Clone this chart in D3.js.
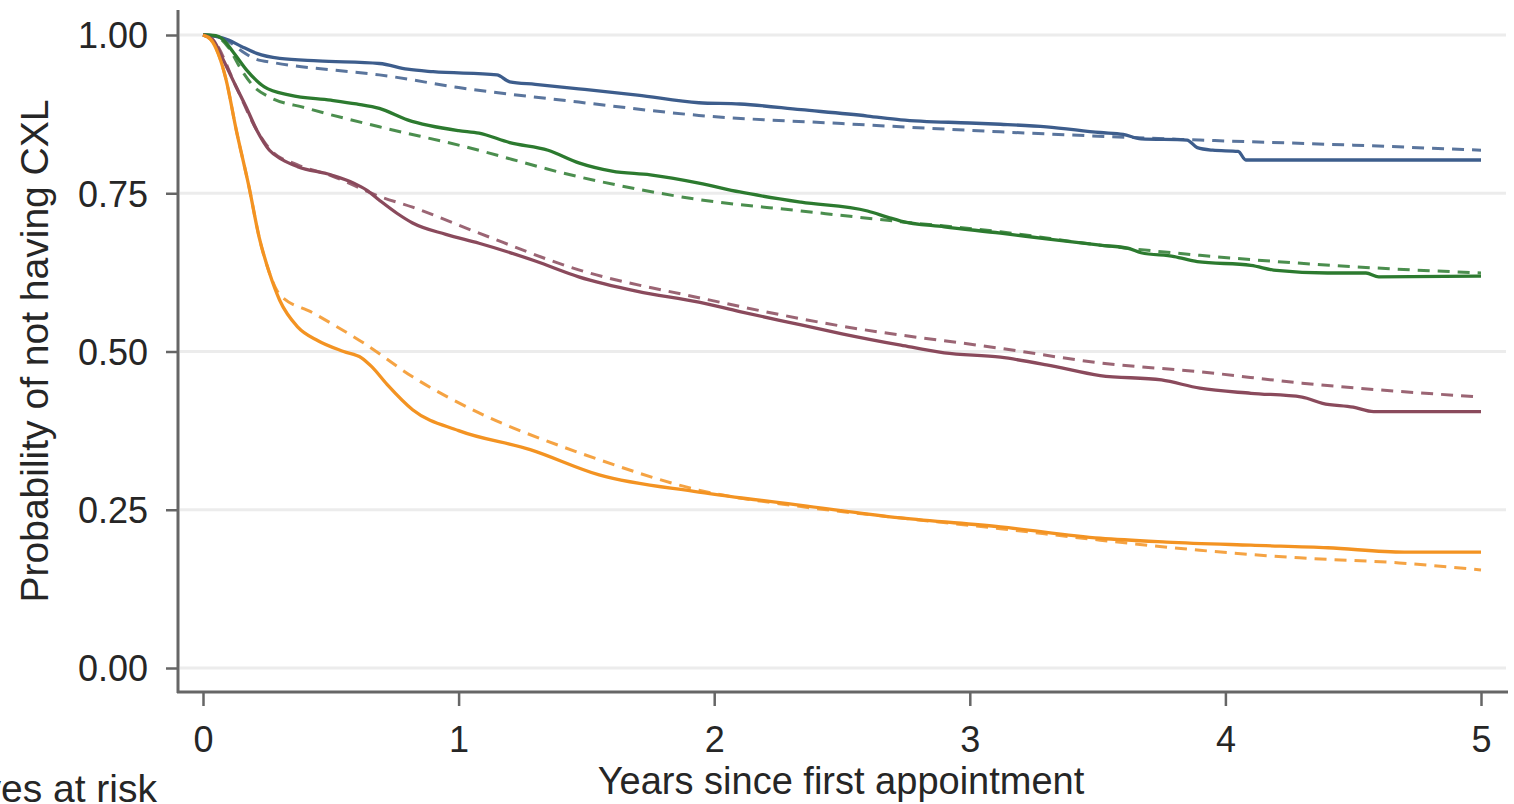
<!DOCTYPE html>
<html>
<head>
<meta charset="utf-8">
<script src="https://cdn.jsdelivr.net/npm/d3@7"></script>
<style>
  body { margin: 0; background: #fff; }
  svg { display: block; font-family: "Liberation Sans", Arial, sans-serif; }
  .axis text { fill: #262626; font-size: 36px; }
  .axis line { stroke: #666; stroke-width: 2.5; }
  .axis path { display: none; }
</style>
</head>
<body>
<svg width="1514" height="804"></svg>
<script>
// tick values
var xTicks = [0, 1, 2, 3, 4, 5];
var yTicks = [0, 0.25, 0.5, 0.75, 1];

// Kaplan-Meier estimates [years, probability]
var kmBlue = [[0,1],[0.05,0.998],[0.1,0.992],[0.15,0.982],[0.21,0.971],[0.3,0.963],[0.45,0.959],[0.69,0.955],[0.8,0.946],[0.9,0.942],[1.15,0.937],[1.2,0.926],[1.3,0.922],[1.47,0.915],[1.7,0.905],[1.94,0.893],[2.1,0.891],[2.34,0.882],[2.6,0.872],[2.73,0.866],[3.0,0.861],[3.12,0.859],[3.3,0.855],[3.51,0.846],[3.6,0.843],[3.67,0.836],[3.85,0.834],[3.89,0.822],[3.95,0.818],[4.05,0.816],[4.08,0.8025],[5,0.8025]];
var kmGreen = [[0,1],[0.05,0.999],[0.08,0.992],[0.12,0.972],[0.17,0.945],[0.24,0.918],[0.34,0.905],[0.5,0.897],[0.6,0.891],[0.69,0.884],[0.8,0.866],[1.0,0.849],[1.08,0.845],[1.2,0.83],[1.35,0.818],[1.47,0.798],[1.6,0.785],[1.75,0.779],[1.94,0.766],[2.1,0.752],[2.34,0.736],[2.6,0.722],[2.68,0.712],[2.73,0.706],[2.9,0.697],[3.12,0.687],[3.3,0.678],[3.51,0.668],[3.62,0.663],[3.67,0.656],[3.8,0.65],[3.89,0.642],[4.1,0.636],[4.2,0.628],[4.4,0.624],[4.55,0.624],[4.6,0.618],[5,0.619]];
var kmMaroon = [[0,1],[0.04,0.992],[0.08,0.96],[0.13,0.918],[0.17,0.885],[0.21,0.85],[0.26,0.818],[0.31,0.803],[0.37,0.792],[0.5,0.779],[0.59,0.766],[0.64,0.755],[0.69,0.739],[0.76,0.718],[0.82,0.703],[0.95,0.685],[1.08,0.671],[1.3,0.643],[1.47,0.618],[1.7,0.595],[1.94,0.578],[2.1,0.563],[2.34,0.542],[2.5,0.528],[2.73,0.51],[2.9,0.498],[3.12,0.491],[3.3,0.479],[3.51,0.462],[3.75,0.455],[3.9,0.442],[4.1,0.434],[4.3,0.428],[4.38,0.418],[4.5,0.412],[4.58,0.405],[5,0.405]];
var kmOrange = [[0,1],[0.03,0.993],[0.06,0.97],[0.09,0.93],[0.13,0.85],[0.18,0.76],[0.22,0.68],[0.26,0.624],[0.3,0.581],[0.37,0.539],[0.45,0.517],[0.55,0.5],[0.62,0.49],[0.66,0.476],[0.72,0.448],[0.82,0.408],[1.0,0.375],[1.28,0.345],[1.55,0.305],[1.94,0.278],[2.34,0.257],[2.73,0.237],[3.12,0.223],[3.51,0.205],[3.77,0.199],[4.1,0.194],[4.4,0.19],[4.7,0.183],[5,0.183]];

// fitted curves [years, probability]
var fitBlue = [[0,1],[0.05,0.998],[0.1,0.99],[0.15,0.975],[0.2,0.963],[0.28,0.956],[0.5,0.945],[0.69,0.937],[1.0,0.917],[1.47,0.894],[1.94,0.873],[2.5,0.86],[3.12,0.847],[3.9,0.834],[4.5,0.826],[5,0.818]];
var fitGreen = [[0,1],[0.05,0.998],[0.1,0.98],[0.15,0.945],[0.2,0.918],[0.26,0.902],[0.4,0.885],[0.69,0.855],[1.0,0.826],[1.47,0.776],[1.94,0.74],[2.34,0.722],[2.73,0.705],[3.12,0.689],[3.51,0.668],[3.9,0.652],[4.5,0.634],[5,0.624]];
var fitMaroon = [[0,1],[0.04,0.992],[0.13,0.918],[0.21,0.85],[0.27,0.816],[0.37,0.795],[0.5,0.778],[0.69,0.745],[0.82,0.728],[1.08,0.687],[1.47,0.629],[1.94,0.585],[2.5,0.54],[3.12,0.505],[3.51,0.482],[3.9,0.468],[4.3,0.45],[5,0.428]];
var fitOrange = [[0,1],[0.03,0.993],[0.06,0.97],[0.09,0.93],[0.13,0.85],[0.18,0.76],[0.22,0.68],[0.26,0.624],[0.3,0.59],[0.43,0.561],[0.63,0.513],[0.82,0.46],[1.08,0.403],[1.41,0.349],[1.55,0.329],[1.94,0.281],[2.34,0.255],[2.73,0.237],[3.12,0.22],[3.51,0.202],[3.9,0.186],[4.29,0.174],[4.68,0.166],[5,0.155]];

var series = [
  { km: kmBlue,   fit: fitBlue,   color: '#3d5d8c' },
  { km: kmGreen,  fit: fitGreen,  color: '#2c7a2f' },
  { km: kmMaroon, fit: fitMaroon, color: '#8a4a5c' },
  { km: kmOrange, fit: fitOrange, color: '#f39322' }
];

const svg = d3.select('svg');

const xScale = d3.scaleLinear().domain([0, 5]).range([203, 1481]);
const yScale = d3.scaleLinear().domain([0, 1]).range([668, 35]);

// grid
svg.append('g')
  .selectAll('line')
  .data(yTicks)
  .enter()
  .append('line')
  .attr('x1', 180)
  .attr('x2', 1506)
  .attr('y1', (d) => yScale(d))
  .attr('y2', (d) => yScale(d))
  .attr('stroke', '#ececec')
  .attr('stroke-width', 3);

// axes
svg.append('g')
  .attr('class', 'axis')
  .attr('transform', 'translate(178, 0)')
  .call(d3.axisLeft(yScale).tickValues(yTicks).tickFormat(d3.format('.2f')).tickSize(12).tickPadding(18))
  .selectAll('text').attr('dy', '0.36em');

svg.append('g')
  .attr('class', 'axis')
  .attr('transform', 'translate(0, 692)')
  .call(d3.axisBottom(xScale).tickValues(xTicks).tickFormat(d3.format('d')).tickSize(14).tickPadding(20));

svg.append('line')
  .attr('x1', 178).attr('x2', 178).attr('y1', 10).attr('y2', 693)
  .attr('stroke', '#666').attr('stroke-width', 3);
svg.append('line')
  .attr('x1', 177).attr('x2', 1508).attr('y1', 692).attr('y2', 692)
  .attr('stroke', '#666').attr('stroke-width', 3);

const line = d3.line()
  .x((d) => xScale(d[0]))
  .y((d) => yScale(d[1]))
  .curve(d3.curveMonotoneX);

// fitted (dashed) then KM (solid)
series.forEach(function(s)
{
  svg.append('path')
    .attr('d', line(s.fit))
    .attr('fill', 'none')
    .attr('stroke', s.color)
    .attr('stroke-opacity', 0.85)
    .attr('stroke-width', 3)
    .attr('stroke-dasharray', '12,8');
});

series.forEach(function(s)
{
  svg.append('path')
    .attr('d', line(s.km))
    .attr('fill', 'none')
    .attr('stroke', s.color)
    .attr('stroke-width', 3.3)
    .attr('stroke-linejoin', 'round');
});

// titles
svg.append('text')
  .attr('transform', 'translate(48, 351) rotate(-90)')
  .attr('text-anchor', 'middle')
  .attr('fill', '#262626')
  .style('font-size', '39px')
  .text('Probability of not having CXL');

svg.append('text')
  .attr('x', 841)
  .attr('y', 794)
  .attr('text-anchor', 'middle')
  .attr('fill', '#262626')
  .style('font-size', '38px')
  .text('Years since first appointment');

svg.append('text')
  .attr('x', 157)
  .attr('y', 802)
  .attr('text-anchor', 'end')
  .attr('fill', '#262626')
  .style('font-size', '39px')
  .text('Eyes at risk');
</script>
</body>
</html>
